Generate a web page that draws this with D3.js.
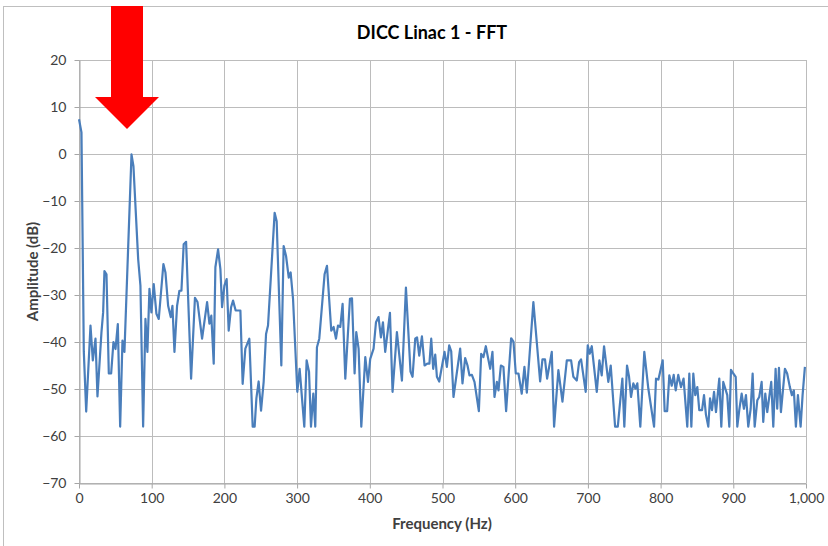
<!DOCTYPE html>
<html>
<head>
<meta charset="utf-8">
<script src="https://cdn.jsdelivr.net/npm/d3@7"></script>
<style>
  body { margin: 0; background: #fff; }
  text { font-family: Lato, "Open Sans", sans-serif; fill: #404040; }
</style>
</head>
<body>
<div id="chart"></div>
<script>

// frequency (Hz) of each FFT point
var freq = [
  0, 3.4, 6.6, 9.9, 15.8, 19, 22.7, 25.4, 30.9, 33.2, 35, 37.8, 41, 44.2, 47.4, 50.2,
  53.4, 56.6, 59.8, 62.5, 72.2, 74.9, 81.4, 84.5, 88.2, 91.4, 94.1, 96.9, 99.6, 102.8,
  106.5, 109.7, 116.1, 118.9, 122.6, 126.2, 128.5, 131.3, 134.9, 138.1, 140.9, 144,
  147.3, 154.2, 159.5, 163, 169.3, 176.2, 179.4, 182, 185.3, 187.6, 191.3, 194.5,
  196.8, 200, 203.1, 205.9, 209.2, 211.9, 215.5, 222, 225.1, 228.8, 234.3, 238.9,
  241.6, 244, 247.1, 250.4, 254, 257.3, 260, 269.1, 271.9, 278.3, 281.5, 284.8,
  288.5, 291.1, 294.4, 300.3, 303.5, 309.9, 313.1, 316.4, 319.1, 322.3, 325, 327.3,
  330.5, 337.8, 341.1, 347, 350.2, 353.5, 356.2, 359.4, 362.6, 366.3, 372.7, 375.5,
  379.1, 381.4, 384.6, 388.3, 393.8, 397.5, 400.6, 405.2, 408.5, 412, 415.3, 418.1,
  421.2, 427.7, 431.3, 437.3, 444.2, 449.7, 456, 458.8, 462.5, 465, 468, 471.7,
  475.3, 479, 482, 484.5, 487.2, 490, 492.3, 495.5, 502.8, 506, 509.2, 512, 515.1,
  524.3, 527.5, 531.2, 534.4, 537.1, 540.4, 544, 550, 553.2, 556.3, 559.6, 562.4,
  565.6, 568.7, 571.5, 574.8, 577, 580.3, 583.8, 587.5, 594.4, 597.6, 600.8, 604.5,
  609, 612.7, 616, 625, 634.3, 637.5, 641, 643.9, 650.3, 653.5, 659.4, 665, 671,
  676.9, 680, 684.7, 687.9, 690.6, 697, 699.8, 702.5, 705.3, 712.2, 715.8, 719,
  722.2, 728.1, 731.4, 737.4, 741.1, 747.4, 750.1, 753.8, 756.6, 759.3, 762.5,
  765.3, 768, 772.1, 777.6, 783.1, 791, 793.7, 797, 802.9, 805.6, 809, 812, 815.3,
  818, 820.8, 824.3, 828, 831.6, 836.7, 839.5, 842.3, 845, 847.7, 850.5, 853.2, 857,
  859.7, 862.4, 865.6, 868, 870.7, 873.5, 876.2, 880.7, 883.5, 886.2, 891.7, 894.5,
  896.8, 900, 903.3, 905.5, 908.2, 911.5, 914.6, 917.4, 920.6, 923.9, 926.6, 929.4,
  933, 935.7, 939, 941.2, 944, 946.7, 952.2, 955, 958.2, 960.4, 962.8, 965.5, 971,
  974.1, 977.8, 980.6, 983.3, 986.1, 988.9, 992.6, 995.3, 998.5
];

// amplitude (dB) at each of those frequencies
var amplitude = [
  7.4, 4.6, -42, -54.8, -36.5, -43.9, -39.3, -51.6, -37.9, -33.7, -24.9, -25.6, -46.7, -46.7, -40, -41.5,
  -36.2, -58, -39.7, -42.1, -0.1, -2.6, -22.4, -28, -58, -35.1, -42.1, -28.7, -33.7, -27.7,
  -34, -35.1, -23.4, -25.2, -32.3, -34.7, -32.3, -42.1, -32.3, -29.1, -29.1, -19.2,
  -18.7, -47.8, -30.6, -31.5, -39.3, -31.5, -36.1, -34.4, -44.6, -24.1, -20.3, -24.5,
  -32.6, -28, -26.6, -37.6, -32.6, -31.2, -33.3, -33.3, -48.9, -41.4, -39.3, -58,
  -58, -52, -48.4, -54.6, -48.5, -38.3, -36.5, -12.5, -14.3, -45, -19.6, -21.7,
  -26.3, -25.2, -30.8, -50.6, -45.7, -58, -43.9, -46.3, -58, -51, -58, -41.1,
  -39.3, -25.6, -23.8, -37.6, -36.8, -39.3, -36.5, -36.8, -31.9, -47.8, -30.8, -30.7,
  -46.7, -37.9, -41.4, -58, -43.2, -48.5, -43.6, -41.4, -35.8, -34.7, -39, -35.8,
  -42.1, -33.8, -50.6, -37.9, -48.2, -28.4, -46.3, -47.4, -39.3, -39, -42.9, -38.8,
  -45, -44.6, -44.6, -39.3, -45.7, -42.7, -47.4, -48.4, -42.1, -45.3, -40.7, -42, -51.7,
  -41.4, -48.8, -43.4, -45, -47.1, -47, -48.5, -54.7, -42.5, -43.2, -40.9, -43.2,
  -45.7, -42.1, -51.7, -48.5, -50.3, -45, -45.3, -54.7, -39.2, -39.9, -46.7, -46.7,
  -51, -45.3, -50.8, -31.5, -48.4, -43.7, -43.7, -47.8, -42.1, -58, -46, -52.7, -43.9,
  -43.9, -47.4, -48.2, -44.3, -43.7, -50.6, -40.7, -42.5, -40.9, -50.6, -43.9, -47.1,
  -40.9, -48.5, -45, -58, -58, -47.8, -58, -45, -47.4, -51.7, -48.8,
  -49.9, -48.8, -58, -42.1, -49.9, -58, -47.8, -48, -43.9, -54.7, -54.7, -47.1, -49.3,
  -47, -50.3, -47, -49.6, -47.8, -58, -46.7, -58, -46.7, -51.3, -49.6, -54.5, -54.5,
  -51.3, -55.5, -58, -52, -54.5, -50.6, -54.9, -47.8, -58, -48.5, -51.3, -58,
  -45.9, -46.7, -47.4, -58, -54.5, -51, -54.2, -51.3, -58, -54.2, -46.7, -58,
  -52.4, -51.7, -48.5, -57, -51, -54.9, -48.5, -58, -45.7, -54.2, -45.5, -54.9, -45.7,
  -46.7, -49.6, -51.3, -50.3, -58, -51.3, -58, -51.3, -45.3
];

var xTicks = [0, 100, 200, 300, 400, 500, 600, 700, 800, 900, 1000];
var yTicks = [-70, -60, -50, -40, -30, -20, -10, 0, 10, 20];

var width = 828, height = 546;
var margin = {top: 60, right: 22, bottom: 63, left: 79};

var svg = d3.select("#chart").append("svg")
    .attr("width", width)
    .attr("height", height);

// outer chart frame
svg.append("rect")
    .attr("x", 3.5).attr("y", 6.5)
    .attr("width", width).attr("height", height)
    .style("fill", "none").style("stroke", "#bfbfbf");

var x = d3.scaleLinear().domain([0, 1000]).range([margin.left, width - margin.right]);
var y = d3.scaleLinear().domain([-70, 20]).range([height - margin.bottom, margin.top]);

// gridlines
svg.append("g").selectAll("line").data(yTicks).join("line")
    .attr("x1", margin.left).attr("x2", width - margin.right)
    .attr("y1", d => Math.round(y(d)) + 0.5).attr("y2", d => Math.round(y(d)) + 0.5)
    .style("stroke", "#bcbcbc");
svg.append("g").selectAll("line").data(xTicks).join("line")
    .attr("x1", d => Math.round(x(d)) + 0.5).attr("x2", d => Math.round(x(d)) + 0.5)
    .attr("y1", margin.top).attr("y2", height - margin.bottom)
    .style("stroke", "#bcbcbc");

var xAxis = d3.axisBottom(x).tickValues(xTicks).tickFormat(d3.format(",")).tickSizeInner(5).tickSizeOuter(0).tickPadding(5);
var yAxis = d3.axisLeft(y).tickValues(yTicks).tickSizeInner(5).tickSizeOuter(0).tickPadding(8);

var gx = svg.append("g")
    .attr("transform", "translate(0," + (Math.round(y(-70)) + 0.5) + ")")
    .call(xAxis);
var gy = svg.append("g")
    .attr("transform", "translate(" + (Math.round(x(0)) + 0.5) + ",0)")
    .call(yAxis);

[gx, gy].forEach(function(g) {
  g.selectAll("path, line").style("stroke", "#a6a6a6");
  g.selectAll("text").style("font-size", "14px").style("fill", "#404040")
      .style("font-family", "Lato, sans-serif");
});

// FFT trace
var line = d3.line()
    .x((d, i) => x(freq[i]))
    .y(d => y(d));

svg.append("path")
    .datum(amplitude)
    .attr("d", line)
    .style("fill", "none")
    .style("stroke", "#4a7ebb")
    .style("stroke-width", 2.2)
    .style("stroke-linejoin", "round");

// titles
svg.append("text")
    .attr("x", 432).attr("y", 39)
    .attr("text-anchor", "middle")
    .style("font-size", "18px").style("font-weight", "bold")
    .style("fill", "#000")
    .text("DICC Linac 1 - FFT");

svg.append("text")
    .attr("x", 442).attr("y", 529)
    .attr("text-anchor", "middle")
    .style("font-size", "15px").style("font-weight", "bold")
    .style("fill", "#404040")
    .text("Frequency (Hz)");

svg.append("text")
    .attr("transform", "translate(38," + ((margin.top + height - margin.bottom) / 2) + ") rotate(-90)")
    .attr("text-anchor", "middle")
    .style("font-size", "15px").style("font-weight", "bold")
    .style("fill", "#404040")
    .text("Amplitude (dB)");

// red marker arrow pointing at the peak
svg.append("polygon")
    .attr("points", "111,6 143,6 143,97 159,97 127,129 95,97 111,97")
    .style("fill", "#ff0000");

</script>
</body>
</html>
